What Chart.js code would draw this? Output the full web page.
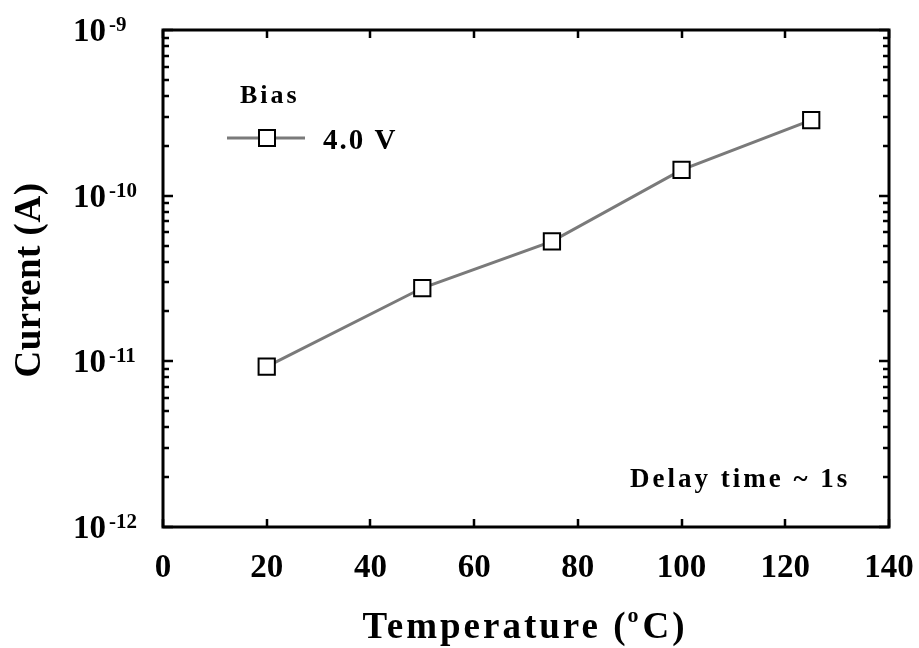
<!DOCTYPE html>
<html>
<head>
<meta charset="utf-8">
<script src="https://cdn.jsdelivr.net/npm/chart.js@4.4.1/dist/chart.umd.min.js"></script>
<style>
html,body{margin:0;padding:0;background:#fff;}
#wrap{width:919px;height:648px;}
</style>
</head>
<body>
<div id="wrap"><canvas id="c" width="919" height="648"></canvas></div>
<script>
// ---- data ----
const temperatures = [20, 50, 75, 100, 125];
const currents = [9.3e-12, 2.77e-11, 5.3e-11, 1.43e-10, 2.86e-10];
const seriesLabel = '4.0 V';
const legendTitle = 'Bias';
const xTicks = [0, 20, 40, 60, 80, 100, 120, 140];
const yExponents = [-9, -10, -11, -12];
const xTitle = 'Temperature (';
const xTitleSup = 'o';
const xTitleEnd = 'C)';
const yTitle = 'Current (A)';
const note = 'Delay time ~ 1s';

const FONT = '"Liberation Serif", "Times New Roman", serif';

const framePlugin = {
  id: 'frame',
  afterDatasetsDraw(chart) {
    const ctx = chart.ctx;
    const xs = chart.scales.x, ys = chart.scales.y;
    const a = chart.chartArea;
    ctx.save();
    ctx.strokeStyle = '#000';
    ctx.fillStyle = '#000';
    // frame
    ctx.lineWidth = 3;
    ctx.strokeRect(a.left, a.top, a.right - a.left, a.bottom - a.top);
    // y ticks (left and right, inward)
    ctx.lineWidth = 2.5;
    for (let e = -12; e <= -9; e++) {
      for (let m = 1; m <= 9; m++) {
        if (e === -9 && m > 1) break;
        const v = m * Math.pow(10, e);
        const y = Math.round(ys.getPixelForValue(v));
        const len = m === 1 ? 10 : 6;
        ctx.beginPath();
        ctx.moveTo(a.left, y); ctx.lineTo(a.left + len, y);
        ctx.moveTo(a.right, y); ctx.lineTo(a.right - len, y);
        ctx.stroke();
      }
    }
    // x ticks (top and bottom, inward)
    xTicks.forEach(t => {
      const x = Math.round(xs.getPixelForValue(t));
      ctx.beginPath();
      ctx.moveTo(x, a.bottom); ctx.lineTo(x, a.bottom - 8);
      ctx.moveTo(x, a.top); ctx.lineTo(x, a.top + 8);
      ctx.stroke();
    });
    // x tick labels
    ctx.font = 'bold 33px ' + FONT;
    ctx.textAlign = 'center';
    ctx.textBaseline = 'alphabetic';
    ctx.letterSpacing = '0px';
    xTicks.forEach(t => {
      const x = xs.getPixelForValue(t);
      ctx.fillText(String(t), x, a.bottom + 50);
    });
    // y tick labels 10^e
    ctx.textAlign = 'left';
    yExponents.forEach(e => {
      const y = ys.getPixelForValue(Math.pow(10, e));
      ctx.font = 'bold 33px ' + FONT;
      ctx.fillText('10', 73, y + 11);
      const w = ctx.measureText('10').width;
      ctx.font = 'bold 21px ' + FONT;
      ctx.fillText(String(e), 73 + w + 3, y + 1);
    });
    // x title
    ctx.letterSpacing = '3px';
    ctx.font = 'bold 37px ' + FONT;
    const w1 = ctx.measureText(xTitle).width;
    const w3 = ctx.measureText(xTitleEnd).width;
    ctx.font = 'bold 22px ' + FONT;
    const w2 = ctx.measureText(xTitleSup).width;
    const total = w1 + w2 + w3;
    let x0 = 525 - total / 2;
    const base = 638;
    ctx.font = 'bold 37px ' + FONT;
    ctx.fillText(xTitle, x0, base);
    ctx.font = 'bold 22px ' + FONT;
    ctx.fillText(xTitleSup, x0 + w1 - 1, base - 16);
    ctx.font = 'bold 37px ' + FONT;
    ctx.fillText(xTitleEnd, x0 + w1 + w2, base);
    // y title
    ctx.letterSpacing = '0.5px';
    ctx.save();
    ctx.translate(30, 280);
    ctx.rotate(-Math.PI / 2);
    ctx.textAlign = 'center';
    ctx.textBaseline = 'middle';
    ctx.font = 'bold 37px ' + FONT;
    ctx.fillText(yTitle, 0, 0);
    ctx.restore();
    // legend
    const ds = chart.data.datasets[0];
    ctx.letterSpacing = '3px';
    ctx.font = 'bold 26px ' + FONT;
    ctx.textAlign = 'left';
    ctx.fillText(legendTitle, 240, 103);
    ctx.strokeStyle = ds.borderColor;
    ctx.lineWidth = ds.borderWidth;
    ctx.beginPath();
    ctx.moveTo(227, 138); ctx.lineTo(305, 138);
    ctx.stroke();
    const s = 16;
    ctx.fillStyle = '#fff';
    ctx.fillRect(267 - s / 2, 138 - s / 2, s, s);
    ctx.strokeStyle = '#000';
    ctx.lineWidth = 2;
    ctx.strokeRect(267 - s / 2, 138 - s / 2, s, s);
    ctx.fillStyle = '#000';
    ctx.letterSpacing = '2px';
    ctx.font = 'bold 29px ' + FONT;
    ctx.fillText(seriesLabel, 323, 149);
    // note
    ctx.letterSpacing = '3px';
    ctx.font = 'bold 27px ' + FONT;
    ctx.fillText(note, 630, 487);
    ctx.restore();
  }
};

new Chart(document.getElementById('c'), {
  type: 'line',
  data: {
    datasets: [{
      label: seriesLabel,
      data: temperatures.map((t, i) => ({x: t, y: currents[i]})),
      borderColor: '#7a7a7a',
      borderWidth: 3,
      pointStyle: 'rect',
      pointRadius: 11.5,
      pointBorderWidth: 2,
      pointBorderColor: '#000',
      pointBackgroundColor: '#fff',
      tension: 0
    }]
  },
  options: {
    responsive: false,
    animation: false,
    events: [],
    layout: { padding: { left: 163, right: 30, top: 30, bottom: 121 } },
    plugins: { legend: { display: false }, tooltip: { enabled: false } },
    scales: {
      x: { type: 'linear', min: 0, max: 140, display: false },
      y: { type: 'logarithmic', min: 1e-12, max: 1e-9, display: false }
    }
  },
  plugins: [framePlugin]
});
</script>
</body>
</html>
